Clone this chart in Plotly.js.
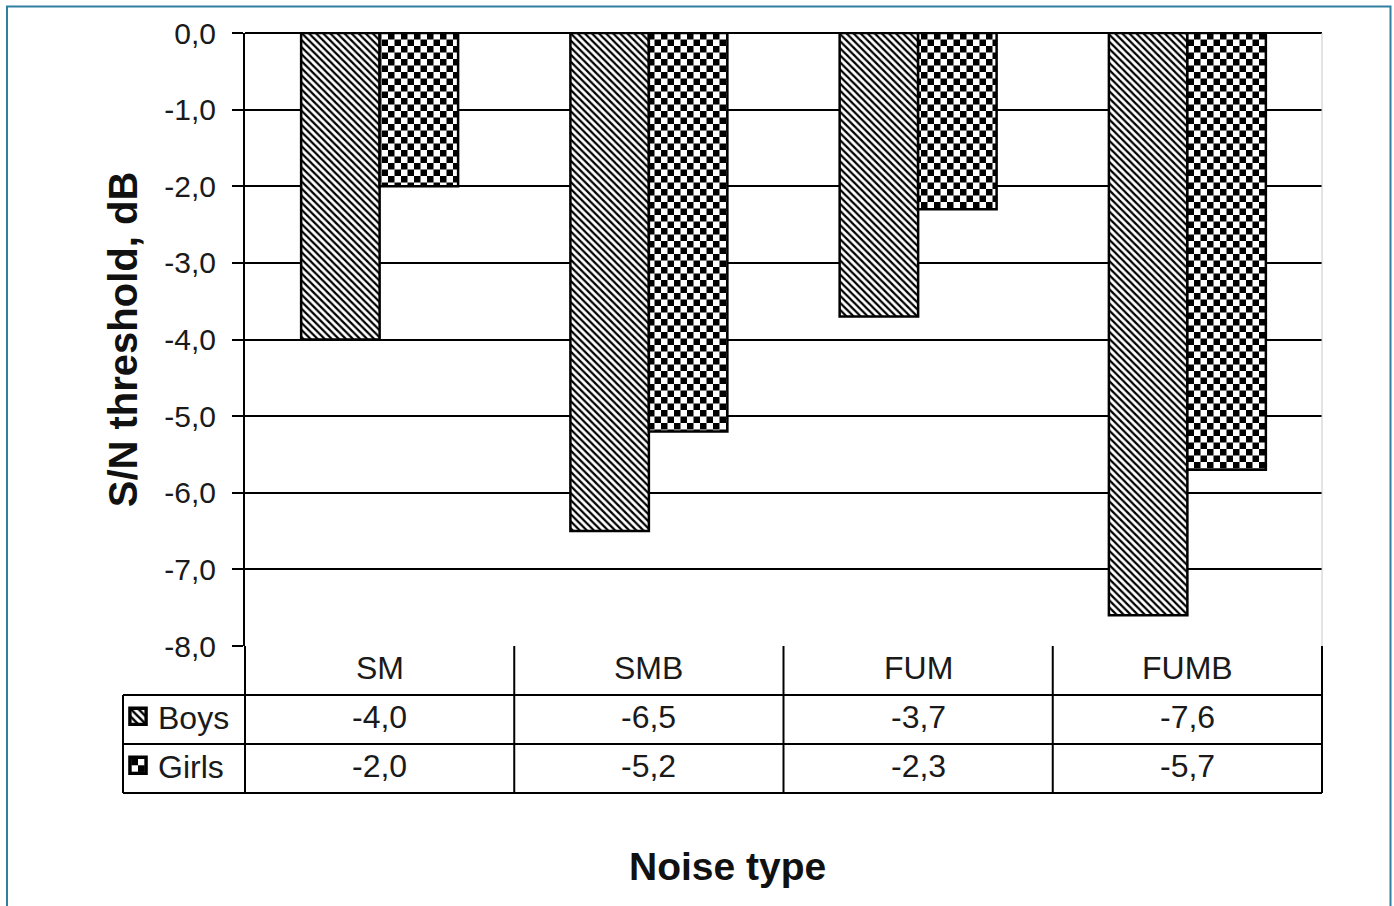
<!DOCTYPE html>
<html>
<head>
<meta charset="utf-8">
<script src="https://cdn.plot.ly/plotly-3.0.1.min.js"></script>
<style>
  html, body { margin: 0; padding: 0; background: #ffffff; }
  #chart { width: 1394px; height: 906px; }
</style>
</head>
<body>
<div id="chart"></div>
<script>
// ---- data ----
const categories = ["SM", "SMB", "FUM", "FUMB"];
const seriesNames = ["Boys", "Girls"];
const boys = [-4.0, -6.5, -3.7, -7.6];
const girls = [-2.0, -5.2, -2.3, -5.7];
const yTickVals = [0, -1, -2, -3, -4, -5, -6, -7, -8];
const yTickText = ["0,0", "-1,0", "-2,0", "-3,0", "-4,0", "-5,0", "-6,0", "-7,0", "-8,0"];
const yTitle = "S/N threshold, dB";
const xTitle = "Noise type";

// ---- layout geometry (pixels) ----
const W = 1394, H = 906;
const M = { l: 245, r: 72, t: 33, b: 260 };
const plotW = W - M.l - M.r;   // 1077
const plotH = H - M.t - M.b;   // 613
const rowH = 49;
const px2x = p => (p - M.l) / plotW;
const px2y = p => (H - M.b - p) / plotH;

const FONT = "Liberation Sans, Arial, Helvetica, sans-serif";
const fmt = v => v.toFixed(1).replace(".", ",");

const r0 = 0, r1 = -rowH / plotH, r2 = -2 * rowH / plotH, r3 = -3 * rowH / plotH;
const lift = 3 / plotH;
const tableLeft = px2x(123);

const traces = [
  {
    type: "bar", name: seriesNames[0], x: categories, y: boys,
    marker: {
      color: "#ffffff",
      line: { color: "#000000", width: 2.5 },
      pattern: { shape: "\\", fgcolor: "#000000", bgcolor: "#ffffff", size: 5, solidity: 0.45 }
    },
    legend: "legend"
  },
  {
    type: "bar", name: seriesNames[1], x: categories, y: girls,
    marker: {
      color: "#ffffff",
      line: { color: "#000000", width: 2.5 },
      pattern: { shape: "x", fgcolor: "#010203", bgcolor: "#ffffff", size: 13, solidity: 0.5 }
    },
    legend: "legend2"
  }
];

const shapes = [];
const lineStyle = { color: "#000000", width: 2 };
[r1, r2, r3].forEach(y => shapes.push({ type: "line", xref: "paper", yref: "paper", x0: tableLeft, x1: 1, y0: y, y1: y, line: lineStyle }));
shapes.push({ type: "line", xref: "paper", yref: "paper", x0: tableLeft, x1: tableLeft, y0: r1, y1: r3, line: lineStyle });
[0, 0.25, 0.5, 0.75, 1].forEach(x => shapes.push({ type: "line", xref: "paper", yref: "paper", x0: x, x1: x, y0: r0, y1: r3, line: lineStyle }));
shapes.push({ type: "line", xref: "paper", yref: "paper", x0: 1, x1: 1, y0: 0, y1: 1, line: { color: "#c8c8c8", width: 1 } });
shapes.push({ type: "rect", xref: "paper", yref: "paper", x0: px2x(7), x1: px2x(1390.5), y0: px2y(920), y1: px2y(6.5), line: { color: "#2e7fa0", width: 2 }, layer: "below" });

const annotations = [];
const cellFont = { family: FONT, size: 32, color: "#1a1a1a" };
categories.forEach((c, i) => {
  annotations.push({ x: c, xref: "x", y: (r0 + r1) / 2 + lift, yref: "paper", text: c, showarrow: false, xanchor: "center", yanchor: "middle", font: cellFont });
  annotations.push({ x: c, xref: "x", y: (r1 + r2) / 2 + lift, yref: "paper", text: fmt(boys[i]), showarrow: false, xanchor: "center", yanchor: "middle", font: cellFont });
  annotations.push({ x: c, xref: "x", y: (r2 + r3) / 2 + lift, yref: "paper", text: fmt(girls[i]), showarrow: false, xanchor: "center", yanchor: "middle", font: cellFont });
});
annotations.push({ x: px2x(727), xref: "paper", y: px2y(866), yref: "paper", text: "<b>" + xTitle + "</b>", showarrow: false, xanchor: "center", yanchor: "middle", font: { family: FONT, size: 39, color: "#111111" } });

const legendBase = {
  xref: "paper", yref: "paper", xanchor: "left", yanchor: "middle",
  x: px2x(118), bgcolor: "rgba(0,0,0,0)", borderwidth: 0,
  font: { family: FONT, size: 32, color: "#1a1a1a" },
  itemwidth: 30, tracegroupgap: 0
};

const layout = {
  width: W, height: H,
  margin: M,
  paper_bgcolor: "#ffffff", plot_bgcolor: "#ffffff",
  barmode: "group", bargap: 0.417, bargroupgap: 0,
  showlegend: true,
  legend: Object.assign({}, legendBase, { y: (r1 + r2) / 2 + lift }),
  legend2: Object.assign({}, legendBase, { y: (r2 + r3) / 2 + lift }),
  xaxis: {
    type: "category", range: [-0.5, 3.5],
    showticklabels: false, ticks: "", showgrid: false, zeroline: false, showline: false,
    fixedrange: true
  },
  yaxis: {
    range: [-8, 0], tickmode: "array", tickvals: yTickVals, ticktext: yTickText,
    showgrid: true, gridcolor: "#000000", gridwidth: 2,
    zeroline: true, zerolinecolor: "#000000", zerolinewidth: 2,
    showline: true, linecolor: "#000000", linewidth: 2,
    ticks: "outside", ticklen: 11, tickwidth: 2, tickcolor: "#000000",
    ticklabelstandoff: 10,
    tickfont: { family: FONT, size: 30, color: "#1a1a1a" },
    title: { text: "<b>" + yTitle + "</b>", font: { family: FONT, size: 40, color: "#111111" }, standoff: 14 },
    automargin: false, fixedrange: true
  },
  shapes: shapes,
  annotations: annotations
};

Plotly.newPlot("chart", traces, layout, { staticPlot: true, displayModeBar: false }).then(gd => {
  const NS = "http://www.w3.org/2000/svg";
  // turn the Girls pattern into a checkerboard
  document.querySelectorAll("pattern").forEach(p => {
    const s = p.outerHTML.toLowerCase().replace(/\s/g, "");
    if (s.indexOf("rgb(1,2,3)") >= 0 || s.indexOf("#010203") >= 0) {
      const c = 13, h = c / 2;
      while (p.firstChild) p.removeChild(p.firstChild);
      p.setAttribute("width", c); p.setAttribute("height", c);
      p.removeAttribute("viewBox");
      const mk = (x, y, w, hh, f) => {
        const r = document.createElementNS(NS, "rect");
        r.setAttribute("x", x); r.setAttribute("y", y);
        r.setAttribute("width", w); r.setAttribute("height", hh);
        r.setAttribute("fill", f);
        p.appendChild(r);
      };
      mk(0, 0, c, c, "#ffffff");
      mk(0, 0, h, h, "#000000");
      mk(h, h, h, h, "#000000");
    }
  });
  // enlarge legend swatches (keep plotly's own transform)
  document.querySelectorAll(".legendpoints path").forEach(p => {
    const t = p.getAttribute("transform") || "";
    p.setAttribute("transform", (t + " scale(1.35)").trim());
  });
});
</script>
</body>
</html>
